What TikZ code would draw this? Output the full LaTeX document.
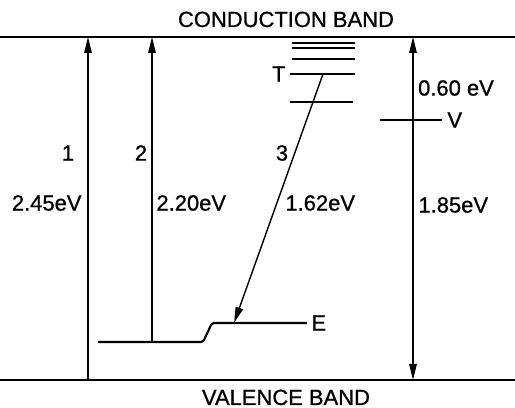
\documentclass[tikz,border=0pt]{standalone}
\usepackage{fontspec}
\setmainfont{Liberation Sans}[FakeBold=0.8]
\usetikzlibrary{arrows.meta}

\begin{document}
\begin{tikzpicture}[x=0.02cm,y=-0.02cm,line width=0.8pt,>={Triangle[length=3.2mm,width=1.5mm]},
  band/.style={line width=1.3pt},
  level/.style={line width=1.2pt},
  lbl/.style={font=\fontsize{12.5}{14}\selectfont,inner sep=1pt},
  bandlbl/.style={font=\fontsize{12.5}{14}\selectfont,inner sep=0pt,text depth=0pt,anchor=base}]
  \useasboundingbox (0,0) rectangle (515,408);
  % bandas
  \coordinate (cb-l) at (0,37);  \coordinate (cb-r) at (515,37);
  \coordinate (vb-l) at (0,380); \coordinate (vb-r) at (515,380);
  \draw[band] (cb-l) -- (cb-r);
  \draw[band] (vb-l) -- (vb-r);
  \node[bandlbl] (cband) at (286,27){CONDUCTION BAND};
  \node[bandlbl] (vband) at (286,405){VALENCE BAND};
  % nivel E
  \coordinate (e-a) at (98,342);  \coordinate (e-b) at (203,342);
  \coordinate (e-c) at (212,323); \coordinate (e-d) at (307,323);
  \draw[level,rounded corners=1pt] (e-a) -- (e-b) -- (e-c) -- (e-d);
  \node[lbl,anchor=west] (elbl) at (309,323){E};
  % niveles T
  \foreach \yy in {43,48,59}{
    \draw[level] (292,\yy) -- (355,\yy);
  }
  \coordinate (t-a) at (290,74);  \coordinate (t-b) at (355,74);
  \draw[level] (t-a) -- (t-b);
  \draw[level] (290,102) -- (353,102);
  \node[lbl,anchor=east] (tlbl) at (288,74){T};
  % nivel V
  \coordinate (v-a) at (380,120); \coordinate (v-b) at (442,120);
  \draw[level] (v-a) -- (v-b);
  \node[lbl,anchor=west] (vlbl) at (445,120){V};
  % transiciones
  \coordinate (x1) at (88,0);
  \coordinate (x2) at (152,0);
  \coordinate (x4) at (413,0);
  \coordinate (t3) at (323,74);
  \coordinate (e3) at (234,323);
  \draw[->] (x1 |- vb-l) -- (x1 |- cb-l);
  \draw[->] (x2 |- e-a) -- (x2 |- cb-l);
  \draw[->] (t3) -- (e3);
  \draw[<->] (x4 |- cb-l) -- (x4 |- vb-l);
  % rotulos
  \node[lbl] (n1) at (68,153){1};
  \node[lbl] (n2) at (141,153){2};
  \node[lbl] (n3) at (282,153){3};
  \node[lbl,anchor=east] (ev1) at (84,203){2.45eV};
  \node[lbl,anchor=west] (ev2) at (154,203){2.20eV};
  \node[lbl,anchor=west] (ev3) at (283,203){1.62eV};
  \node[lbl,anchor=west] (ev4) at (416,205){1.85eV};
  \node[lbl] (ev5) at (456,88){0.60 eV};
\end{tikzpicture}
\end{document}
